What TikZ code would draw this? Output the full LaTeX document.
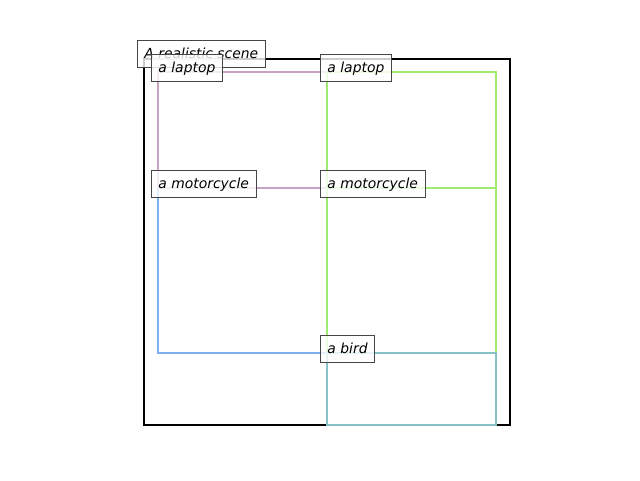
\documentclass[tikz,border=0pt]{standalone}
\usepackage{fontspec}
\setmainfont{DejaVu Sans}
\newfontfamily\labfont{DejaVu Sans Oblique}
\definecolor{pinkc}{RGB}{200,162,196}
\definecolor{greenc}{RGB}{160,236,110}
\definecolor{bluec}{RGB}{124,176,238}
\definecolor{tealc}{RGB}{132,194,200}
\definecolor{edgec}{RGB}{70,70,70}
\begin{document}
\begin{tikzpicture}[x=1pt,y=-1pt,
  frame/.style={draw=black,line width=2pt},
  det/.style={line width=2.5pt},
  lab/.style={draw=edgec,line width=0.9pt,fill=white,fill opacity=0.8,text opacity=1,
    font=\labfont\fontsize{13.9}{16}\selectfont,anchor=west,
    inner xsep=7pt,inner ysep=0pt,text height=11.4pt,text depth=2.4pt,minimum height=27pt}]
\useasboundingbox (0,0) rectangle (640,480);
\draw[frame] (144,59) rectangle (510,425);
% detections
\draw[det,bluec] (158,188) rectangle (327,353);
\draw[det,greenc] (327,188) rectangle (496,353);
\draw[det,pinkc] (158,72) rectangle (327,188);
\draw[det,greenc] (327,72) rectangle (496,353);
\draw[det,tealc] (327,353) rectangle (496,425);
% labels
\node[lab] (title) at (137,54) {A realistic scene};
\node[lab] (l1) at (151,68) {a laptop};
\node[lab] (l2) at (320,68) {a laptop};
\node[lab] (m1) at (151,184) {a motorcycle};
\node[lab] (m2) at (320,184) {a motorcycle};
\node[lab] (b1) at (320,349) {a bird};
\end{tikzpicture}
\end{document}
